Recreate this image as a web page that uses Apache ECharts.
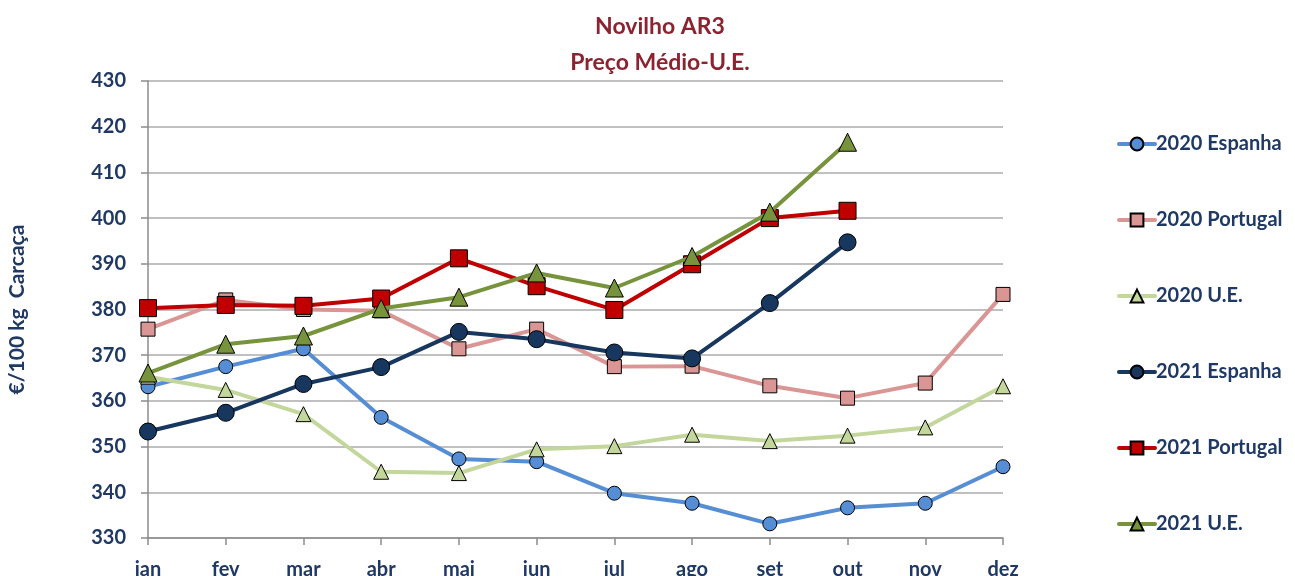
<!DOCTYPE html>
<html>
<head>
<meta charset="utf-8">
<script src="https://cdn.jsdelivr.net/npm/echarts@6/dist/echarts.min.js"></script>
<style>
html,body{margin:0;padding:0;background:#fff;}
#chart{width:1295px;height:576px;}
</style>
</head>
<body>
<div id="chart"></div>
<script>
const months = ['jan','fev','mar','abr','mai','jun','jul','ago','set','out','nov','dez'];
const espanha2020 = [363.1, 367.5, 371.4, 356.4, 347.3, 346.7, 339.8, 337.6, 333.1, 336.6, 337.6, 345.6];
const portugal2020 = [375.7, 382.1, 380.0, 379.7, 371.4, 375.7, 367.5, 367.6, 363.3, 360.6, 363.9, 383.3];
const ue2020 = [365.3, 362.4, 357.1, 344.5, 344.2, 349.4, 350.1, 352.6, 351.2, 352.4, 354.2, 363.2];
const espanha2021 = [353.3, 357.4, 363.7, 367.4, 375.1, 373.5, 370.6, 369.3, 381.4, 394.7, null, null];
const portugal2021 = [380.3, 381.0, 380.8, 382.4, 391.2, 385.1, 379.9, 389.9, 400.0, 401.6, null, null];
const ue2021 = [366.1, 372.4, 374.2, 380.2, 382.7, 388.0, 384.7, 391.6, 401.3, 416.6, null, null];
const seriesNames = ['2020 Espanha','2020 Portugal','2020 U.E.','2021 Espanha','2021 Portugal','2021 U.E.'];
const yTicks = [330, 340, 350, 360, 370, 380, 390, 400, 410, 420, 430];

const navy = '#1F3864';
const font = 'Lato, "Open Sans", sans-serif';
const styles = [
  {data: espanha2020, color: '#558ED5', symbol: 'circle', size: 14},
  {data: portugal2020, color: '#D99694', symbol: 'rect', size: 14},
  {data: ue2020, color: '#C3D69B', symbol: 'triangle', size: 15},
  {data: espanha2021, color: '#17375E', symbol: 'circle', size: 17},
  {data: portugal2021, color: '#C00000', symbol: 'rect', size: 17},
  {data: ue2021, color: '#77933C', symbol: 'triangle', size: 18}
];

const chart = echarts.init(document.getElementById('chart'));
chart.setOption({
  animation: false,
  title: {
    text: 'Novilho AR3\nPreço Médio-U.E.',
    left: 655, top: 4, textAlign: 'center',
    textStyle: {color: '#8B2331', fontFamily: font, fontWeight: 'bold', fontSize: 23, lineHeight: 36}
  },
  legend: {
    orient: 'vertical', left: 1112, top: 129, itemGap: 56,
    itemWidth: 36, itemHeight: 16,
    data: seriesNames,
    lineStyle: {width: 4, cap: 'round'},
    textStyle: {color: navy, fontFamily: font, fontWeight: 'bold', fontSize: 20, padding: [0,0,0,-4]}
  },
  grid: {left: 148, right: 292, top: 81, bottom: 38, containLabel: false, outerBoundsMode: 'none'},
  xAxis: {
    type: 'category', data: months, boundaryGap: false,
    axisLine: {lineStyle: {color: '#8C8C8C', width: 1.5}},
    axisTick: {show: true, length: 7, alignWithLabel: true, lineStyle: {color: '#8C8C8C', width: 1.5}},
    axisLabel: {color: navy, fontFamily: font, fontWeight: 'bold', fontSize: 20, margin: 22},
    splitLine: {show: false}
  },
  yAxis: {
    type: 'value', min: yTicks[0], max: yTicks[yTicks.length-1], interval: 10,
    name: '€/100 kg  Carcaça', nameLocation: 'middle', nameGap: 120, nameRotate: 90,
    nameTextStyle: {color: navy, fontFamily: font, fontWeight: 'bold', fontSize: 21},
    axisLine: {show: true, lineStyle: {color: '#8C8C8C', width: 1.5}},
    axisTick: {show: true, length: 7, lineStyle: {color: '#8C8C8C', width: 1.5}},
    axisLabel: {color: navy, fontFamily: font, fontWeight: 'bold', fontSize: 20, margin: 22},
    splitLine: {lineStyle: {color: '#ABABAB', width: 1.5}}
  },
  series: styles.map((s, i) => ({
    name: seriesNames[i], type: 'line', data: s.data,
    symbol: s.symbol, symbolSize: s.size, connectNulls: false,
    lineStyle: {color: s.color, width: 4},
    itemStyle: {color: s.color, borderColor: '#000', borderWidth: 1},
    z: 2 + i
  }))
});
</script>
</body>
</html>
